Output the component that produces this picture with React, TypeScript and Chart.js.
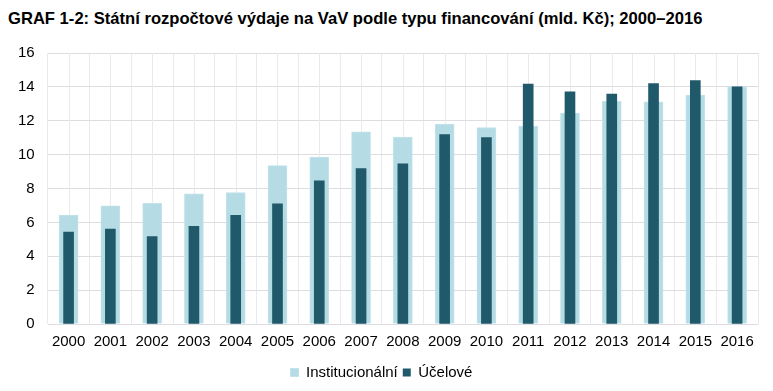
import React, { useEffect, useRef } from "react";
import { Chart, registerables } from "chart.js";

Chart.register(...registerables);

const TITLE = "GRAF 1-2: Státní rozpočtové výdaje na VaV podle typu financování (mld. Kč); 2000–2016";
const years = ["2000", "2001", "2002", "2003", "2004", "2005", "2006", "2007", "2008", "2009", "2010", "2011", "2012", "2013", "2014", "2015", "2016"];
const institucionalni = [6.43, 6.98, 7.12, 7.68, 7.76, 9.35, 9.86, 11.35, 11.03, 11.8, 11.59, 11.67, 12.46, 13.15, 13.11, 13.51, 14.02];
const ucelove = [5.42, 5.6, 5.16, 5.77, 6.41, 7.1, 8.45, 9.17, 9.46, 11.19, 11.01, 14.17, 13.71, 13.57, 14.19, 14.37, 14.0];
const seriesNames = ["Institucionální", "Účelové"];
const yMin = 0;
const yMax = 16;
const yStep = 2;

const FONT = "'Liberation Sans', Arial, sans-serif";

const centerLines = {
  id: "centerLines",
  beforeDatasetsDraw(chart: any) {
    const { ctx, chartArea, scales } = chart;
    const x = scales.x;
    ctx.save();
    ctx.strokeStyle = "#eaeaee";
    ctx.lineWidth = 1;
    for (let i = 0; i < years.length; i++) {
      const px = Math.round(x.getPixelForValue(i)) + 0.5;
      ctx.beginPath();
      ctx.moveTo(px, chartArea.top);
      ctx.lineTo(px, chartArea.bottom);
      ctx.stroke();
    }
    ctx.restore();
  },
};

export default function App() {
  const ref = useRef<HTMLCanvasElement | null>(null);
  useEffect(() => {
    if (!ref.current) return;
    const chart = new Chart(ref.current, {
      type: "bar",
      data: {
        labels: years,
        datasets: [
          {
            label: seriesNames[0],
            data: institucionalni,
            backgroundColor: "#b5dce4",
            borderColor: "#c3e3ea",
            borderWidth: 1,
            barThickness: 19,
            grouped: false,
            order: 2,
          } as any,
          {
            label: seriesNames[1],
            data: ucelove,
            backgroundColor: "#20596a",
            borderWidth: 0,
            barThickness: 10,
            grouped: false,
            order: 1,
          } as any,
        ],
      },
      options: {
        animation: false,
        responsive: true,
        maintainAspectRatio: false,
        layout: { padding: { top: 24, left: -3, right: 15, bottom: -8 } },
        plugins: {
          title: { display: false },
          tooltip: { enabled: false },
          legend: {
            position: "bottom",
            labels: {
              boxWidth: 8,
              boxHeight: 8,
              padding: 5,
              color: "#000",
              font: { family: FONT, size: 15 },
              sort: (a: any, b: any) => a.datasetIndex - b.datasetIndex,
            },
          },
        },
        scales: {
          x: {
            grid: { color: "#eaeaee", drawTicks: false, offset: true },
            border: { display: false },
            ticks: { color: "#000", padding: 9, font: { family: FONT, size: 15 }, maxRotation: 0 },
          },
          y: {
            min: yMin,
            max: yMax,
            grid: { color: "#dcdce1", drawTicks: false },
            border: { display: false },
            ticks: { stepSize: yStep, color: "#000", padding: 13, font: { family: FONT, size: 15 } },
          },
        },
      },
      plugins: [centerLines],
    });
    return () => chart.destroy();
  }, []);

  return (
    <div>
      <div
        style={{
          fontFamily: FONT,
          fontWeight: "bold",
          fontSize: 16.6,
          lineHeight: "20px",
          height: 21,
          paddingTop: 1,
          boxSizing: "border-box",
          color: "#000",
          whiteSpace: "nowrap",
        }}
      >
        {TITLE}
      </div>
      <div style={{ position: "relative", width: 765, height: 353 }}>
        <canvas ref={ref} />
      </div>
    </div>
  );
}
